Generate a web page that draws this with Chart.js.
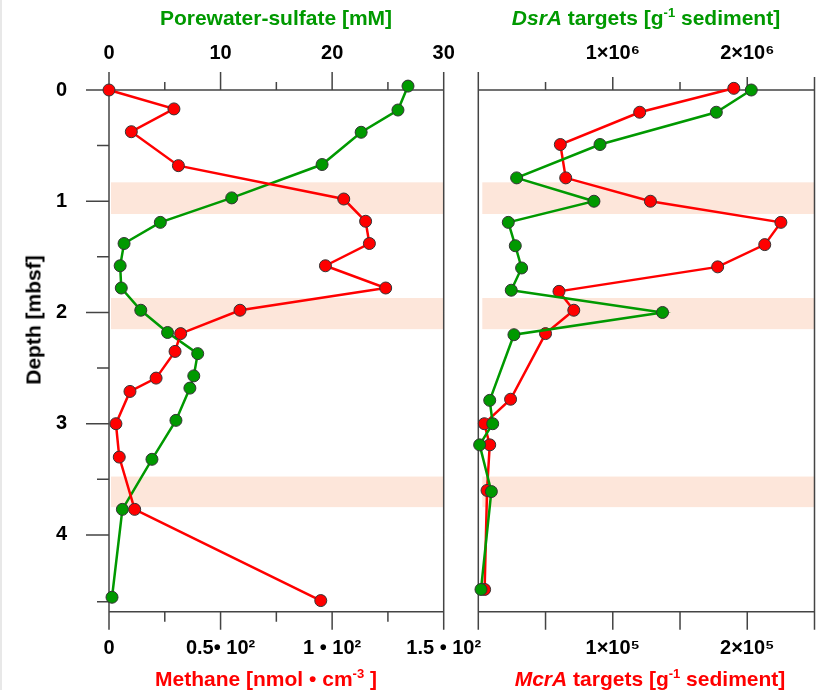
<!DOCTYPE html>
<html>
<head>
<meta charset="utf-8">
<script src="https://cdn.jsdelivr.net/npm/chart.js@4.4.1/dist/chart.umd.min.js"></script>
<style>
  body { margin: 0; background: #fff; font-family: 'Liberation Sans', Arial, sans-serif; }
  #wrap { position: relative; width: 817px; height: 690px; overflow: hidden; background: #fff; }
  #strip { position: absolute; left: 0; top: 0; width: 2px; height: 690px; background: #e8e8e8; }
  canvas { position: absolute; top: 0; }
  #left { left: 0; }
  #right { left: 460px; }
  .title { position: absolute; font-weight: bold; font-size: 21px; white-space: nowrap;
           transform: translate(-50%, -50%); line-height: 1; }
  .title sup { font-size: 13px; position: relative; top: -8px; vertical-align: baseline; }
  .green { color: #009900; }
  .red { color: #ff0000; }
  #depthTitle { transform: translate(-50%, -50%) rotate(-90deg); color: #000; }
</style>
</head>
<body>
<div id="wrap">
  <div id="strip"></div>
  <canvas id="left" width="490" height="690"></canvas>
  <canvas id="right" width="385" height="690"></canvas>
  <div class="title green" style="left:276px; top:17px;">Porewater-sulfate [mM]</div>
  <div class="title green" style="left:646px; top:17px;"><i>DsrA</i> targets [g<sup>-1</sup> sediment]</div>
  <div class="title red" style="left:266px; top:678px;">Methane [nmol • cm<sup>-3</sup> ]</div>
  <div class="title red" style="left:650px; top:678px;"><i>McrA</i> targets [g<sup>-1</sup> sediment]</div>
  <div class="title" id="depthTitle" style="left:33px; top:320px;">Depth [mbsf]</div>
</div>
<script>
// depth profiles (mbsf)
const depthMethane = [0, 0.17, 0.375, 0.68, 0.98, 1.18, 1.38, 1.58, 1.78, 1.98, 2.19, 2.35, 2.59, 2.71, 3.0, 3.3, 3.77, 4.59];
const methane = [0, 29.1, 10.0, 31.1, 105.2, 115.0, 116.7, 97.0, 124.0, 58.7, 32.1, 29.6, 21.1, 9.4, 3.1, 4.6, 11.5, 94.9];

const depthSulfate = [-0.035, 0.18, 0.38, 0.67, 0.97, 1.19, 1.38, 1.58, 1.78, 1.98, 2.18, 2.37, 2.57, 2.68, 2.97, 3.32, 3.77, 4.56];
const sulfate = [26.8, 25.9, 22.6, 19.1, 11.0, 4.6, 1.35, 1.0, 1.1, 2.85, 5.25, 7.95, 7.6, 7.25, 6.0, 3.85, 1.2, 0.27];

const depthMcrA = [-0.015, 0.2, 0.49, 0.79, 1.0, 1.19, 1.39, 1.59, 1.81, 1.98, 2.19, 2.78, 3.0, 3.19, 3.6, 4.49];
const mcrA = [190000, 120000, 61000, 65000, 128000, 225000, 213000, 178000, 60000, 71000, 50000, 24000, 4500, 8500, 6500, 4700];

const depthDsrA = [0, 0.2, 0.49, 0.79, 1.0, 1.19, 1.4, 1.6, 1.8, 2.0, 2.2, 2.79, 3.0, 3.19, 3.61, 4.49];
const dsrA = [2030000, 1770000, 905000, 285000, 860000, 223000, 275000, 322000, 245000, 1370000, 265000, 85000, 107000, 10000, 97000, 20000];

// shaded depth intervals
const bandTop = [0.83, 1.87, 3.475];
const bandBottom = [1.115, 2.15, 3.75];

// axis ticks
const depthTicks = [0, 0.5, 1, 1.5, 2, 2.5, 3, 3.5, 4, 4.6];
const depthLabelled = [0, 1, 2, 3, 4];
const sulfateTickVals = [0, 10, 20, 30];
const sulfateTickLabels = ['0', '10', '20', '30'];
const methaneTickVals = [0, 50, 100, 150];
const methaneTickLabels = ['0', '0.5\u2022 10\u00b2', '1 \u2022 10\u00b2', '1.5 \u2022 10\u00b2'];
const dsrTickVals = [1000000, 2000000];
const dsrTickLabels = ['1\u00d710\u2076', '2\u00d710\u2076'];
const mcrTickVals = [100000, 200000];
const mcrTickLabels = ['1\u00d710\u2075', '2\u00d710\u2075'];

const RED = '#ff0000';
const GREEN = '#009900';
const AXIS = '#444444';
const tickFont = { family: "'Liberation Sans', Arial, sans-serif", size: 20, weight: 'bold' };

function pts(xs, ys) {
    return xs.map(function(x, i) { return { x: x, y: ys[i] }; });
}

function labelFrom(vals, labels) {
    return function(v) {
        const i = vals.indexOf(v);
        return i >= 0 ? labels[i] : '';
    };
}

function series(data, color, order) {
    return {
        data: data,
        showLine: true,
        borderColor: color,
        borderWidth: 2.5,
        backgroundColor: color,
        pointBackgroundColor: color,
        pointBorderColor: '#333',
        pointBorderWidth: 1,
        pointRadius: 6,
        clip: false,
        order: order
    };
}

function xAxis(pos, min, max, step, vals, labels, size, pad) {
    return {
        type: 'linear',
        position: pos,
        min: min,
        max: max,
        ticks: {
            stepSize: step,
            autoSkip: false,
            maxRotation: 0,
            includeBounds: false,
            padding: pad,
            color: '#000',
            font: tickFont,
            callback: labelFrom(vals, labels)
        },
        grid: { display: true, drawOnChartArea: false, drawTicks: true, tickLength: 18, tickColor: 'rgba(0,0,0,0)' },
        border: { display: false },
        afterFit: function(s) { s.height = size; }
    };
}

// frame, ticks and shaded bands drawn with the chart's own scales
function framePlugin(cfg) {
    return {
        id: 'frame',
        beforeDatasetsDraw: function(chart) {
            const ctx = chart.ctx;
            const a = chart.chartArea;
            const y = chart.scales.y;
            ctx.save();
            ctx.fillStyle = '#fde6da';
            bandTop.forEach(function(t, i) {
                const y0 = y.getPixelForValue(t);
                const y1 = y.getPixelForValue(bandBottom[i]);
                ctx.fillRect(a.left + cfg.bandInset, y0, a.right - a.left - cfg.bandInset, y1 - y0);
            });

            ctx.strokeStyle = AXIS;
            ctx.lineWidth = 1.5;
            ctx.beginPath();
            // frame
            ctx.moveTo(a.left, a.top); ctx.lineTo(a.right, a.top);
            ctx.moveTo(a.left, a.top - 18); ctx.lineTo(a.left, a.bottom);
            ctx.moveTo(a.right, a.top); ctx.lineTo(a.right, a.bottom);
            ctx.moveTo(a.left, a.bottom); ctx.lineTo(a.right, a.bottom);
            // top ticks
            chart.scales.x2.ticks.forEach(function(t) {
                const px = chart.scales.x2.getPixelForValue(t.value);
                ctx.moveTo(px, a.top); ctx.lineTo(px, a.top - cfg.topLen(t.value));
            });
            // bottom ticks
            chart.scales.x.ticks.forEach(function(t) {
                const px = chart.scales.x.getPixelForValue(t.value);
                ctx.moveTo(px, a.bottom); ctx.lineTo(px, a.bottom + cfg.bottomLen(t.value));
            });
            // depth ticks
            if (cfg.depthTicks) {
                y.ticks.forEach(function(t) {
                    const py = y.getPixelForValue(t.value);
                    const len = depthLabelled.indexOf(t.value) >= 0 ? 23 : 12;
                    ctx.moveTo(a.left, py); ctx.lineTo(a.left - len, py);
                });
            }
            ctx.stroke();
            ctx.restore();
        }
    };
}

const depthAxisLeft = {
    type: 'linear',
    position: 'left',
    reverse: true,
    min: 0,
    max: 4.69,
    afterBuildTicks: function(s) { s.ticks = depthTicks.map(function(v) { return { value: v }; }); },
    ticks: {
        autoSkip: false,
        padding: 19,
        color: '#000',
        font: tickFont,
        callback: function(v) { return depthLabelled.indexOf(v) >= 0 ? String(v) : ''; }
    },
    grid: { display: true, drawOnChartArea: false, drawTicks: true, tickLength: 23, tickColor: 'rgba(0,0,0,0)' },
    border: { display: false },
    afterFit: function(s) { s.width = 109; }
};

new Chart(document.getElementById('left'), {
    type: 'scatter',
    data: {
        datasets: [
            Object.assign(series(pts(methane, depthMethane), RED, 0), { xAxisID: 'x', yAxisID: 'y' }),
            Object.assign(series(pts(sulfate, depthSulfate), GREEN, 1), { xAxisID: 'x2', yAxisID: 'y' })
        ]
    },
    options: {
        responsive: false,
        animation: false,
        devicePixelRatio: 1,
        layout: { padding: { left: 0, right: 46.3, top: 0, bottom: 0 } },
        plugins: { legend: { display: false }, tooltip: { enabled: false } },
        scales: {
            x: xAxis('bottom', 0, 150, 25, methaneTickVals, methaneTickLabels, 78.3, 7),
            x2: xAxis('top', 0, 30, 5, sulfateTickVals, sulfateTickLabels, 90, 7),
            y: depthAxisLeft
        }
    },
    plugins: [framePlugin({
        bandInset: 2,
        depthTicks: true,
        topLen: function(v) { return v % 10 === 0 ? 18 : 8; },
        bottomLen: function(v) { return v % 50 === 0 ? 18 : 10; }
    })]
});

new Chart(document.getElementById('right'), {
    type: 'scatter',
    data: {
        datasets: [
            Object.assign(series(pts(mcrA, depthMcrA), RED, 1), { xAxisID: 'x', yAxisID: 'y' }),
            Object.assign(series(pts(dsrA, depthDsrA), GREEN, 0), { xAxisID: 'x2', yAxisID: 'y' })
        ]
    },
    options: {
        responsive: false,
        animation: false,
        devicePixelRatio: 1,
        layout: { padding: { left: 18.3, right: 30.5, top: 0, bottom: 0 } },
        plugins: { legend: { display: false }, tooltip: { enabled: false } },
        scales: {
            x: xAxis('bottom', 0, 250000, 50000, mcrTickVals, mcrTickLabels, 78.3, 7),
            x2: xAxis('top', 0, 2500000, 500000, dsrTickVals, dsrTickLabels, 90, 7),
            y: { type: 'linear', display: false, reverse: true, min: 0, max: 4.69 }
        }
    },
    plugins: [framePlugin({
        bandInset: 4,
        depthTicks: false,
        topLen: function(v) { return v % 1000000 === 0 || v === 2500000 ? 13 : 8; },
        bottomLen: function() { return 18; }
    })]
});
</script>
</body>
</html>
